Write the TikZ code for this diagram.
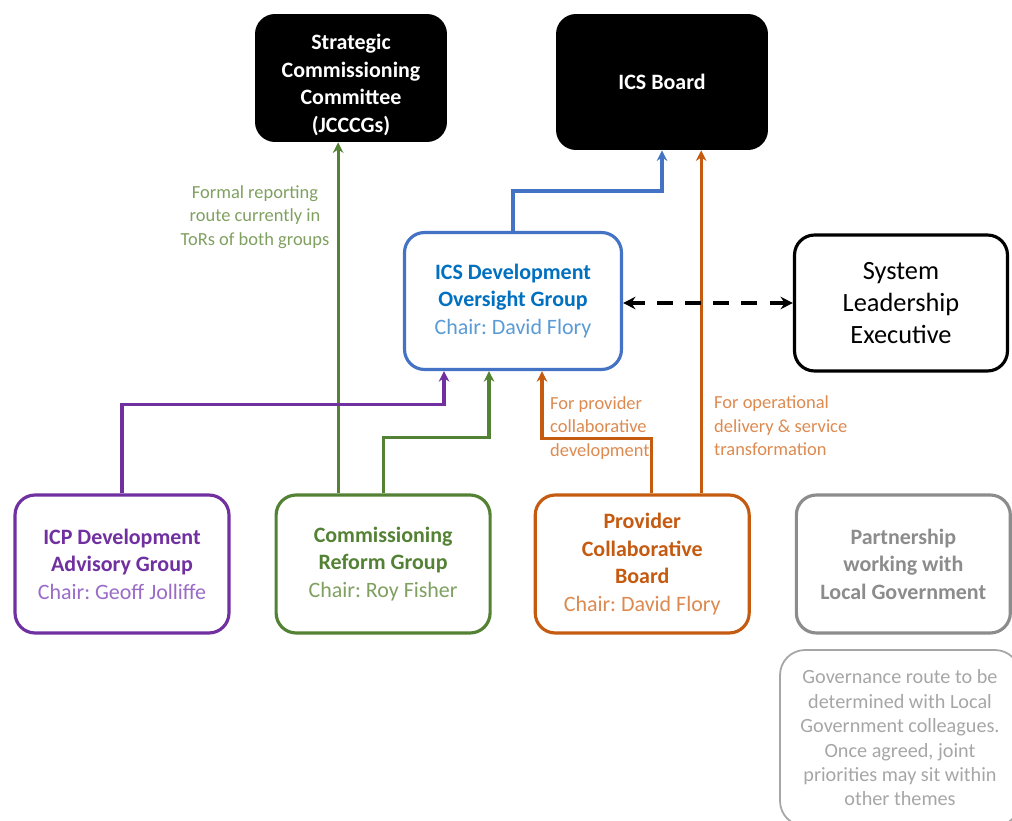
\documentclass[tikz,border=0pt]{standalone}
\usepackage{fontspec}
\setmainfont{Carlito}
\usepackage{xcolor}
\usetikzlibrary{arrows.meta, positioning}
\frenchspacing

\definecolor{icsblue}{HTML}{4472C4}
\definecolor{icstext}{HTML}{0070C0}
\definecolor{chairblue}{HTML}{5B9BD5}
\definecolor{icppurple}{HTML}{7030A0}
\definecolor{chairpurple}{HTML}{9B6BC8}
\definecolor{crggreen}{HTML}{548235}
\definecolor{chairgreen}{HTML}{7FA060}
\definecolor{pcborange}{HTML}{C55A11}
\definecolor{chairorange}{HTML}{DC8A50}
\definecolor{lggray}{HTML}{8C8C8C}
\definecolor{notegray}{HTML}{A6A6A6}

\begin{document}
\begin{tikzpicture}[x=0.02cm, y=-0.02cm,
    board/.style={fill=black, text=white, rounded corners=0.4cm, align=center,
      font=\fontsize{12.5}{15.6}\selectfont\bfseries},
    group/.style={draw, line width=1.8pt, rounded corners=0.4cm, fill=white, align=center,
      minimum width=4.28cm, minimum height=2.76cm, font=\fontsize{12.5}{15.6}\selectfont},
    link/.style={-{Stealth[length=6pt, width=6pt]}, line width=1.8pt},
    remark/.style={font=\fontsize{10.5}{13.3}\selectfont}
]
  \useasboundingbox (0,0) rectangle (1012,821);

  % Boards at the top
  \node[board, minimum width=3.84cm, minimum height=2.56cm] (scc) at (351,78) {};
  \node[board, fill=none] (scctext) at ([yshift=-0.14cm]scc.center)
    {Strategic\\Commissioning\\Committee\\(JCCCGs)};
  \node[board, minimum width=4.24cm, minimum height=2.72cm] (board) at (662,82) {ICS Board};

  % Oversight group and executive
  \node[group, draw=icsblue, text=icstext, minimum width=4.34cm, minimum height=2.74cm] (icsdev) at (513,301)
    {\textbf{ICS Development}\\\textbf{Oversight Group}\\\textcolor{chairblue}{Chair: David Flory}};
  \node[group, draw=black, minimum width=4.26cm, minimum height=2.72cm,
    font=\fontsize{15}{18}\selectfont] (sle) at (901,303)
    {System\\Leadership\\Executive};

  % Groups on the bottom row
  \node[group, draw=icppurple, text=icppurple] (icp) at (122,564)
    {\textbf{ICP Development}\\\textbf{Advisory Group}\\\textcolor{chairpurple}{Chair: Geoff Jolliffe}};
  \node[group, draw=crggreen, text=crggreen, right=0.88cm of icp] (crg)
    {\textbf{Commissioning}\\\textbf{Reform Group}\\\textcolor{chairgreen}{Chair: Roy Fisher}};
  \node[group, draw=pcborange, text=pcborange, right=0.84cm of crg] (pcb)
    {\textbf{Provider}\\\textbf{Collaborative}\\\textbf{Board}\\\textcolor{chairorange}{Chair: David Flory}};
  \node[group, draw=lggray, text=lggray, right=0.88cm of pcb] (plg)
    {\textbf{Partnership}\\\textbf{working with}\\\textbf{Local Government}};

  % Note under the partnership box
  \node[draw=notegray, line width=1pt, rounded corners=0.5cm, text=notegray, align=center,
    minimum width=4.8cm, minimum height=3.52cm, font=\fontsize{11.5}{13.9}\selectfont] (gov) at (900,738)
    {Governance route to be\\determined with Local\\Government colleagues.\\Once agreed, joint\\priorities may sit within\\other themes};

  % Reporting routes
  \draw[link, crggreen] ([xshift=-0.9cm]crg.north) -- ([xshift=-0.9cm]crg.north |- scc.south);
  \draw[link, crggreen] (crg.north) -- ++(0,1.12cm) -| ([xshift=-0.48cm]icsdev.south);
  \draw[link, icppurple] (icp.north) -- ++(0,1.78cm) -| ([xshift=-1.38cm]icsdev.south);
  \draw[link, pcborange] ([xshift=0.18cm]pcb.north) -- ++(0,1.1cm) -| ([xshift=0.58cm]icsdev.south);
  \draw[link, pcborange] ([xshift=1.18cm]pcb.north) -- ([xshift=1.18cm]pcb.north |- board.south);
  \draw[link, icsblue] (icsdev.north) -- ++(0,0.8cm) -| (board.south);
  \draw[{Stealth[length=7pt, width=7pt]}-{Stealth[length=7pt, width=7pt]}, line width=2pt,
    dash pattern=on 9pt off 7pt] (sle.west) -- (sle.west -| icsdev.east);

  % Route labels
  \node[remark, text=chairgreen, align=center] (formal) at (255,217)
    {Formal reporting\\route currently in\\ToRs of both groups};
  \node[remark, text=chairorange, align=left, anchor=west] (provlbl) at (544,428)
    {For provider\\collaborative\\development};
  \node[remark, text=chairorange, align=left, anchor=west] (oplbl) at (708,426)
    {For operational\\delivery \& service\\transformation};
\end{tikzpicture}
\end{document}
